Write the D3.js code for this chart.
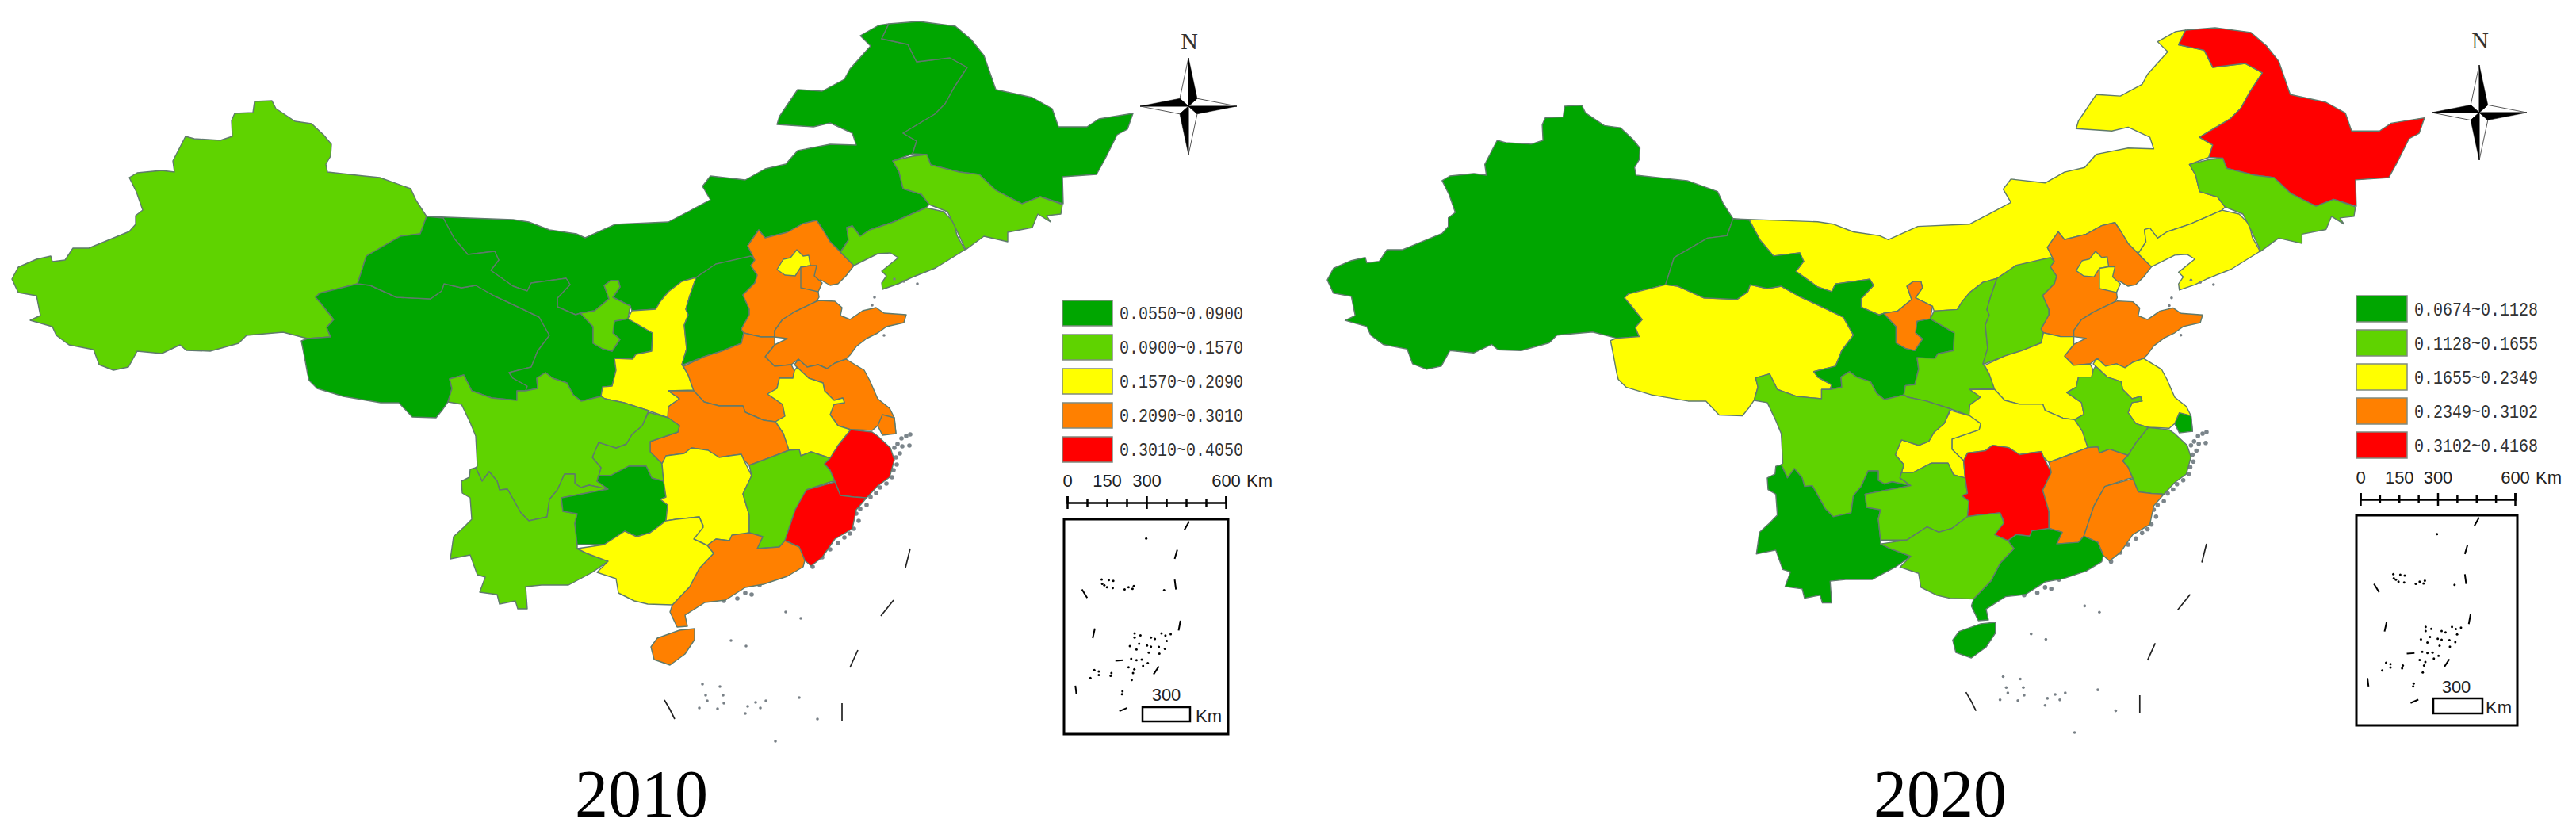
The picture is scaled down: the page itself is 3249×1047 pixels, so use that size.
<!DOCTYPE html>
<html lang="en">
<head>
<meta charset="UTF-8">
<title>2010 / 2020 province maps</title>
<script src="https://d3js.org/d3.v7.min.js"></script>
<style type="text/css">
html, body { margin: 0; padding: 0; background: #fff; }
.province { stroke: #5f7a6c; stroke-width: 1.4px; stroke-linejoin: round; }
.legend-text { font-family: "Liberation Mono", monospace; font-size: 23px; fill: #333; }
.bar-axis text, .km { font-family: "Liberation Sans", sans-serif; font-size: 22px; fill: #222; }
.bar-axis line { stroke: #000; stroke-width: 2.5px; }
.bar-axis path { stroke: #000; stroke-width: 2.5px; }
.title { font-family: "Liberation Serif", serif; font-size: 84px; fill: #000; text-anchor: middle; }
.north { font-family: "Liberation Serif", serif; font-size: 30px; fill: #333; text-anchor: middle; }
</style>
</head>
<body>
<div id="chart"></div>
<script>
// province outlines, map units shared by both panels
var neimenggu = [[538,273],[563,274],[647,277],[667,280],[693,290],[727,295],[738,300],[776,283],[843,280],[868,267],[896,252],[886,235],[896,222],[940,227],[965,213],[991,207],[1006,190],[1047,182],[1080,183],[1075,168],[1047,155],[1026,160],[980,157],[983,147],[1006,113],[1037,115],[1065,100],[1072,87],[1098,58],[1085,45],[1108,32],[1121,30],[1112,49],[1145,56],[1156,78],[1198,73],[1220,85],[1203,111],[1192,131],[1179,144],[1139,168],[1156,178],[1151,194],[1126,203],[1134,217],[1139,238],[1162,245],[1172,258],[1168,262],[1127,280],[1097,290],[1085,298],[1075,285],[1068,287],[1070,303],[1060,318],[1047,305],[1038,290],[1030,278],[1013,282],[993,293],[965,300],[957,290],[952,297],[943,310],[952,328],[903,333],[878,350],[860,355],[843,368],[833,380],[827,390],[797,392],[795,386],[773,375],[782,362],[780,354],[770,354],[762,360],[768,377],[750,392],[732,395],[726,397],[703,387],[703,376],[719,359],[714,351],[670,357],[665,367],[647,361],[619,341],[629,328],[624,317],[590,321],[573,301],[559,275]];
var xinjiang = [[388,427],[380,425],[357,419],[311,423],[301,433],[265,443],[235,442],[227,435],[204,446],[173,443],[162,463],[143,467],[125,460],[118,441],[87,435],[71,423],[66,412],[38,404],[51,398],[46,373],[23,369],[15,352],[23,337],[46,327],[64,323],[66,330],[82,328],[92,313],[112,313],[163,292],[171,283],[171,272],[180,265],[172,242],[163,224],[173,218],[204,215],[220,217],[218,203],[234,172],[245,175],[278,177],[293,172],[292,152],[296,143],[319,142],[321,128],[343,127],[348,137],[372,153],[393,156],[408,170],[418,182],[417,197],[411,207],[413,217],[459,222],[479,224],[518,238],[525,253],[538,273],[533,287],[530,295],[505,298],[462,323],[451,358],[403,370],[398,375],[405,383],[421,403],[412,413],[417,425]];
var qinghai = [[451,358],[467,360],[500,375],[543,377],[557,367],[560,358],[582,363],[600,360],[623,373],[653,387],[680,400],[693,423],[678,443],[670,463],[642,470],[647,477],[665,487],[663,493],[652,493],[652,505],[620,502],[595,493],[585,473],[567,478],[570,490],[565,507],[558,517],[550,527],[520,526],[503,508],[480,508],[433,500],[400,490],[390,480],[388,472],[384,450],[380,430],[388,427],[417,425],[412,413],[421,403],[405,383],[398,375],[403,370]];
var gansu = [[538,273],[559,275],[573,301],[590,321],[624,317],[629,328],[619,341],[647,361],[665,367],[670,357],[714,351],[719,359],[703,376],[703,387],[726,397],[732,395],[748,412],[748,433],[760,440],[772,443],[782,428],[773,420],[775,405],[792,402],[823,420],[822,443],[802,447],[798,453],[775,452],[777,467],[772,487],[760,488],[758,500],[733,506],[723,498],[715,483],[697,477],[688,470],[677,477],[678,490],[663,493],[665,487],[647,477],[642,470],[670,463],[678,443],[693,423],[680,400],[653,387],[623,373],[600,360],[582,363],[560,358],[557,367],[543,377],[500,375],[467,360],[451,358],[462,323],[505,298],[530,295],[533,287]];
var ningxia = [[732,395],[750,392],[768,377],[762,360],[770,354],[780,354],[782,362],[773,375],[795,386],[792,402],[775,405],[773,420],[782,428],[772,443],[760,440],[748,433],[748,412]];
var shaanxi = [[878,350],[870,373],[865,390],[868,397],[863,410],[866,440],[860,460],[868,473],[875,492],[843,493],[857,503],[843,513],[843,527],[818,518],[787,508],[763,503],[758,500],[760,488],[772,487],[777,467],[775,452],[798,453],[802,447],[822,443],[823,420],[792,402],[797,392],[827,390],[833,380],[843,368],[860,355]];
var shanxi = [[878,350],[903,333],[947,323],[952,328],[947,335],[955,347],[952,357],[937,372],[945,390],[945,397],[935,415],[938,420],[935,433],[910,443],[888,450],[862,460],[860,460],[866,440],[863,410],[868,397],[865,390],[870,373]];
var hebei = [[952,328],[943,310],[952,297],[957,290],[965,300],[993,293],[1013,282],[1030,278],[1038,290],[1047,305],[1060,318],[1077,335],[1067,348],[1057,358],[1047,360],[1035,353],[1032,368],[1033,375],[1030,380],[1003,393],[987,403],[977,417],[977,425],[960,425],[938,420],[935,415],[945,397],[945,390],[937,372],[952,357],[955,347],[947,335]];
var beijing = [[1005,315],[1013,323],[1020,322],[1022,335],[1010,337],[1003,348],[990,347],[980,340],[988,327],[997,325]];
var tianjin = [[1022,335],[1030,335],[1027,348],[1037,357],[1032,368],[1010,363],[1010,350],[1010,337]];
var liaoning = [[1068,287],[1075,285],[1085,298],[1097,290],[1127,280],[1168,262],[1190,267],[1203,280],[1207,297],[1217,315],[1180,338],[1150,350],[1133,358],[1113,365],[1112,357],[1118,348],[1112,342],[1133,325],[1123,319],[1107,320],[1077,335],[1060,318],[1070,303]];
var heilongjiang = [[1121,30],[1159,27],[1205,33],[1225,50],[1241,70],[1256,113],[1302,123],[1327,137],[1335,160],[1371,160],[1386,150],[1429,143],[1422,163],[1409,170],[1394,200],[1383,220],[1340,223],[1341,257],[1312,248],[1289,257],[1256,240],[1235,220],[1210,217],[1174,208],[1169,195],[1151,194],[1156,178],[1139,168],[1179,144],[1192,131],[1203,111],[1220,85],[1198,73],[1156,78],[1145,56],[1112,49]];
var jilin = [[1126,203],[1151,197],[1169,195],[1174,208],[1210,217],[1235,220],[1256,240],[1289,257],[1312,248],[1340,258],[1338,270],[1320,272],[1325,280],[1309,270],[1302,287],[1271,293],[1271,305],[1241,298],[1218,315],[1205,287],[1195,267],[1172,258],[1162,245],[1139,238],[1134,217]];
var shandong = [[1033,379],[1053,380],[1062,388],[1060,398],[1072,403],[1088,392],[1105,388],[1115,395],[1143,397],[1140,407],[1118,412],[1107,420],[1093,427],[1080,437],[1072,448],[1067,453],[1053,458],[1043,465],[1032,460],[1018,463],[1007,453],[998,460],[977,462],[965,450],[977,435],[993,427],[977,425],[977,417],[987,403],[1003,393],[1030,380]];
var henan = [[862,462],[888,450],[910,443],[935,433],[938,420],[960,425],[977,425],[977,435],[965,450],[977,462],[998,460],[1002,468],[1000,477],[983,477],[980,490],[968,497],[987,510],[990,525],[978,532],[963,530],[940,520],[937,512],[907,512],[888,507],[875,493],[868,473]];
var jiangsu = [[1002,460],[1007,453],[1018,463],[1032,460],[1043,465],[1053,458],[1067,453],[1090,467],[1097,480],[1107,503],[1122,515],[1128,527],[1130,547],[1107,537],[1100,543],[1080,542],[1073,542],[1057,537],[1047,523],[1052,510],[1065,508],[1063,502],[1052,505],[1040,493],[1038,483],[1020,477],[1005,463]];
var shanghai = [[1107,537],[1113,523],[1128,527],[1130,547],[1113,549]];
var anhui = [[1005,463],[1020,477],[1038,483],[1040,493],[1052,505],[1063,502],[1065,508],[1052,510],[1047,523],[1057,537],[1073,542],[1057,562],[1047,578],[1023,570],[1010,575],[1008,567],[995,568],[988,547],[978,532],[990,525],[987,510],[968,497],[980,490],[983,477],[1000,477],[1002,468]];
var hubei = [[843,493],[875,493],[888,507],[907,512],[937,512],[940,520],[963,530],[978,532],[988,547],[995,568],[977,575],[945,587],[938,580],[935,573],[920,575],[907,577],[893,568],[872,565],[863,572],[840,575],[835,585],[820,570],[820,557],[855,545],[857,537],[842,527],[843,513],[857,503]];
var chongqing = [[818,520],[843,527],[857,537],[855,545],[820,557],[820,570],[835,585],[837,607],[822,603],[815,588],[793,588],[770,600],[755,600],[758,590],[747,577],[755,558],[777,565],[790,560],[797,548],[810,537]];
var sichuan = [[565,507],[570,490],[567,478],[585,473],[595,493],[620,502],[652,505],[652,493],[663,493],[678,490],[677,477],[688,470],[697,477],[715,483],[723,498],[733,506],[758,500],[763,503],[787,508],[818,518],[810,537],[797,548],[790,560],[777,565],[755,558],[747,577],[758,590],[755,600],[753,607],[767,617],[743,612],[733,615],[725,610],[725,598],[712,598],[703,618],[693,630],[690,652],[667,657],[657,647],[640,617],[630,618],[627,607],[617,595],[608,607],[600,590],[602,588],[600,550],[593,533],[582,510]];
var yunnan = [[600,590],[593,592],[592,602],[582,607],[583,622],[593,628],[595,655],[585,665],[572,677],[568,705],[593,700],[602,725],[612,728],[605,747],[627,750],[630,762],[650,758],[653,768],[665,768],[663,740],[683,738],[717,738],[747,722],[767,708],[740,698],[728,692],[728,687],[725,660],[728,648],[710,645],[708,628],[740,622],[767,617],[743,612],[733,615],[725,610],[725,598],[712,598],[703,618],[693,630],[690,652],[667,657],[657,647],[640,617],[630,618],[627,607],[617,595],[608,607]];
var guizhou = [[755,600],[770,600],[793,588],[815,588],[822,603],[837,607],[840,627],[833,630],[842,637],[840,657],[820,672],[803,677],[788,670],[762,687],[728,687],[725,660],[728,648],[710,645],[708,628],[740,622],[767,617],[753,607]];
var hunan = [[840,575],[863,572],[872,565],[893,568],[907,577],[920,575],[935,573],[938,580],[948,600],[937,623],[945,650],[945,672],[923,677],[920,682],[903,680],[892,688],[875,680],[887,663],[882,652],[853,655],[840,657],[842,637],[833,630],[840,627],[837,607],[835,585]];
var jiangxi = [[945,587],[977,575],[995,568],[1008,567],[1010,575],[1023,570],[1047,578],[1040,585],[1047,593],[1053,607],[1047,608],[1017,618],[1003,643],[990,682],[983,690],[955,692],[962,677],[945,672],[945,650],[937,623],[948,600]];
var zhejiang = [[1073,542],[1100,545],[1107,550],[1123,565],[1128,580],[1122,602],[1107,613],[1093,628],[1077,627],[1060,625],[1053,607],[1047,593],[1040,585],[1047,578],[1057,562]];
var fujian = [[1053,608],[1060,625],[1077,627],[1093,628],[1080,643],[1075,667],[1053,680],[1037,703],[1023,714],[1015,707],[1008,690],[990,682],[1003,643],[1017,618]];
var guangdong = [[892,688],[903,680],[920,682],[923,675],[945,672],[962,677],[955,692],[983,690],[990,682],[1008,690],[1015,707],[1013,715],[993,727],[963,737],[940,741],[915,757],[889,760],[864,776],[867,790],[854,791],[845,772],[848,763],[870,740],[882,717],[900,698]];
var guangxi = [[728,692],[762,687],[788,670],[803,677],[820,672],[840,657],[853,655],[882,652],[887,665],[875,680],[892,688],[900,698],[882,717],[870,740],[848,763],[817,762],[800,758],[780,748],[777,730],[753,722],[767,708],[740,698]];
var hainan = [[829,805],[857,795],[876,793],[876,807],[864,825],[845,839],[825,832],[821,816]];

// draw order matters, later provinces sit on top
var provinces = [neimenggu,xinjiang,qinghai,gansu,ningxia,shaanxi,shanxi,hebei,beijing,tianjin,liaoning,heilongjiang,jilin,shandong,henan,jiangsu,shanghai,anhui,hubei,chongqing,sichuan,yunnan,guizhou,hunan,jiangxi,zhejiang,fujian,guangdong,guangxi,hainan];
// class of each province, same order
var classes2010 = [0,1,0,0,1,2,0,3,2,3,1,0,1,3,3,3,3,2,3,1,1,1,0,2,1,4,4,3,2,3];
var classes2020 = [2,0,2,0,3,1,1,3,2,2,2,4,1,3,2,2,0,1,2,2,1,0,1,4,3,1,3,0,1,0];

var classColors = ["#00a600","#5fd300","#ffff00","#ff8000","#ff0000"];
var legend2010 = ["0.0550~0.0900","0.0900~0.1570","0.1570~0.2090","0.2090~0.3010","0.3010~0.4050"];
var legend2020 = ["0.0674~0.1128","0.1128~0.1655","0.1655~0.2349","0.2349~0.3102","0.3102~0.4168"];

var barTicks = [0,75,150,225,300,375,450,525,600];
var barLabels = [0,150,300,600];

// islands and sea lines in map units
var seaDashes = [[[1148,692],[1142,716]],[[1127,757],[1111,777]],[[1082,820],[1072,842]],[[1062,887],[1062,910]],[[838,883],[845,895],[851,907]]];
var seaDots = [[886,863],[908,866],[890,877],[912,877],[892,884],[913,887],[905,894],[882,893],[966,884],[953,886],[943,891],[940,900],[959,893],[1008,880],[1031,907],[978,935],[991,772],[1010,780],[922,808],[941,815],[1157,358],[1140,355],[1128,352],[1103,375],[1100,385],[1115,423]];
var coastDots = [[1143,550],[1148,548],[1137,553],[1132,560],[1128,565],[1138,563],[1147,562],[1135,572],[1130,577],[1131,586],[1127,593],[1125,602],[1118,610],[1110,615],[1105,622],[1098,627],[1093,637],[1085,642],[1080,648],[1083,657],[1077,667],[1072,673],[1065,678],[1057,685],[1047,693],[1037,703],[1025,715],[913,758],[958,738],[940,748],[948,750],[930,755]];

// inset contents in inset units
var insetDashes = [[[690,890],[672,920]],[[645,990],[635,1022]],[[635,1095],[640,1130]],[[283,1130],[303,1160]],[[657,1240],[650,1275]],[[332,1268],[324,1302]],[[575,1402],[555,1430]],[[258,1470],[262,1500]],[[410,1382],[440,1380]],[[425,1560],[455,1548]]];
var insetDots = [[527,950],[595,1133],[358,1095],[385,1097],[402,1100],[368,1115],[378,1122],[400,1125],[360,1110],[445,1130],[460,1122],[480,1118],[475,1128],[483,1285],[505,1292],[483,1300],[545,1300],[560,1305],[585,1285],[600,1293],[620,1288],[605,1312],[465,1330],[490,1342],[500,1322],[530,1328],[545,1332],[575,1333],[598,1340],[537,1353],[577,1357],[470,1375],[490,1380],[510,1378],[460,1405],[515,1400],[533,1390],[482,1412],[477,1425],[472,1450],[347,1420],[347,1432],[330,1415],[315,1443],[395,1425],[392,1435],[435,1500],[437,1490]];

// compass arms in unit space
var compassBlack = [[[0,-1],[0.18,-0.16],[0,0]],[[-1,0],[-0.18,-0.16],[0,0]],[[0,1],[-0.18,0.16],[0,0]],[[1,0],[0.18,0.16],[0,0]]];
var compassWhite = [[[0,-1],[-0.18,-0.16],[0,0]],[[-1,0],[-0.18,0.16],[0,0]],[[0,1],[0.18,0.16],[0,0]],[[1,0],[0.18,-0.16],[0,0]]];

var width = 3249, height = 1047;
var svg = d3.select("#chart").append("svg")
    .attr("width", width)
    .attr("height", height)
    .style("display", "block");

var panels = [
    {title:"2010", titleX:809, classes:classes2010, labels:legend2010,
     mapX:[15,1429], mapY:[27,839],
     compass:[1499,134,61,62], legendX:1340, legendW:63, legendY:[379,551], legendH:32, textX:1412,
     barX:[1346,1546], barY:634, inset:[1342,1549,655,926],
     insetLabel:[1471,884], insetBox:[1441,892,60,18], insetKm:[1508,911]},
    {title:"2020", titleX:2447, classes:classes2020, labels:legend2020,
     mapX:[1674,3058], mapY:[35,830],
     compass:[3127,142,60,71], legendX:2972, legendW:64, legendY:[373,545], legendH:33, textX:3045,
     barX:[2977,3172], barY:630, inset:[2972,3175,650,915],
     insetLabel:[3098,874], insetBox:[3069,881,62,19], insetKm:[3135,900]}
];

panels.forEach(function(p){
    var x = d3.scaleLinear().domain([15,1429]).range(p.mapX);
    var y = d3.scaleLinear().domain([27,839]).range(p.mapY);
    var line = d3.line().x(function(d){return x(d[0]);}).y(function(d){return y(d[1]);});
    var g = svg.append("g");

    g.selectAll("circle.coast")
        .data(coastDots)
        .enter()
        .append("circle")
        .attr("class","coast")
        .attr("cx",function(d){return x(d[0]);})
        .attr("cy",function(d){return y(d[1]);})
        .attr("r",2.8)
        .attr("fill","#7b858b");

    g.selectAll("path.province")
        .data(provinces)
        .enter()
        .append("path")
        .attr("class","province")
        .attr("d",function(d){return line(d)+"Z";})
        .attr("fill",function(d,i){return classColors[p.classes[i]];});

    g.selectAll("path.dash")
        .data(seaDashes)
        .enter()
        .append("path")
        .attr("class","dash")
        .attr("d",line)
        .attr("fill","none")
        .attr("stroke","#222")
        .attr("stroke-width",1.7);

    g.selectAll("circle.sea")
        .data(seaDots)
        .enter()
        .append("circle")
        .attr("class","sea")
        .attr("cx",function(d){return x(d[0]);})
        .attr("cy",function(d){return y(d[1]);})
        .attr("r",1.8)
        .attr("fill","#777f85");

    // compass
    var cx = p.compass[0], cy = p.compass[1], cr = p.compass[2];
    var ux = d3.scaleLinear().domain([-1,1]).range([cx-cr,cx+cr]);
    var uy = d3.scaleLinear().domain([-1,1]).range([cy-cr,cy+cr]);
    var uline = d3.line().x(function(d){return ux(d[0]);}).y(function(d){return uy(d[1]);});
    g.selectAll("path.white")
        .data(compassWhite).enter().append("path").attr("class","white")
        .attr("d",function(d){return uline(d)+"Z";})
        .attr("fill","#fff").attr("stroke","#555").attr("stroke-width",1);
    g.selectAll("path.black")
        .data(compassBlack).enter().append("path").attr("class","black")
        .attr("d",function(d){return uline(d)+"Z";})
        .attr("fill","#000").attr("stroke","#000").attr("stroke-width",0.5);
    g.append("text").attr("class","north")
        .attr("x",cx+1).attr("y",cy-p.compass[3]-10)
        .text("N");

    // legend
    var ly = d3.scalePoint().domain(p.labels).range(p.legendY);
    g.selectAll("rect.swatch")
        .data(p.labels)
        .enter()
        .append("rect")
        .attr("class","swatch")
        .attr("x",p.legendX)
        .attr("y",function(d){return ly(d);})
        .attr("width",p.legendW)
        .attr("height",p.legendH)
        .attr("fill",function(d,i){return classColors[i];})
        .attr("stroke","#7f8a7f")
        .attr("stroke-width",1.5);
    g.selectAll("text.legend-text")
        .data(p.labels)
        .enter()
        .append("text")
        .attr("class","legend-text")
        .attr("x",p.textX)
        .attr("y",function(d){return ly(d)+p.legendH/2+8;})
        .attr("textLength",156)
        .attr("lengthAdjust","spacingAndGlyphs")
        .text(function(d){return d;});

    // scale bar
    var bar = d3.scaleLinear().domain([0,600]).range(p.barX);
    var barAxis = d3.axisTop(bar)
        .tickValues(barTicks)
        .tickSizeOuter(0)
        .tickSize(8)
        .tickPadding(12)
        .tickFormat(function(d){return barLabels.indexOf(d)>=0 ? d : "";});
    var barG = g.append("g")
        .attr("class","bar-axis")
        .attr("transform","translate(0,"+p.barY+")")
        .call(barAxis);
    barG.selectAll(".tick line")
        .attr("y1",function(d){return d%300===0 ? 8 : 5;})
        .attr("y2",function(d){return d%300===0 ? -8 : -5;});
    barG.attr("font-family",null).attr("font-size",null);
    g.append("text").attr("class","km")
        .attr("x",p.barX[1]+26).attr("y",p.barY-20).text("Km");

    // inset
    var ix = d3.scaleLinear().domain([215,838]).range([p.inset[0],p.inset[1]]);
    var iy = d3.scaleLinear().domain([882,1641]).range([p.inset[2],p.inset[3]]);
    var iline = d3.line().x(function(d){return ix(d[0]);}).y(function(d){return iy(d[1]);});
    g.append("rect")
        .attr("x",p.inset[0]).attr("y",p.inset[2])
        .attr("width",p.inset[1]-p.inset[0]).attr("height",p.inset[3]-p.inset[2])
        .attr("fill","#fff").attr("stroke","#000").attr("stroke-width",3);
    g.selectAll("path.idash")
        .data(insetDashes).enter().append("path").attr("class","idash")
        .attr("d",iline).attr("fill","none").attr("stroke","#000").attr("stroke-width",2);
    g.selectAll("circle.idot")
        .data(insetDots).enter().append("circle").attr("class","idot")
        .attr("cx",function(d){return ix(d[0]);})
        .attr("cy",function(d){return iy(d[1]);})
        .attr("r",1.5).attr("fill","#000");
    g.append("text").attr("class","km")
        .attr("x",p.insetLabel[0]).attr("y",p.insetLabel[1])
        .attr("text-anchor","middle").text("300");
    g.append("rect")
        .attr("x",p.insetBox[0]).attr("y",p.insetBox[1])
        .attr("width",p.insetBox[2]).attr("height",p.insetBox[3])
        .attr("fill","#fff").attr("stroke","#000").attr("stroke-width",2.5);
    g.append("text").attr("class","km")
        .attr("x",p.insetKm[0]).attr("y",p.insetKm[1])
        .text("Km");

    g.append("text").attr("class","title")
        .attr("x",p.titleX).attr("y",1030)
        .text(p.title);
});
</script>
</body>
</html>
